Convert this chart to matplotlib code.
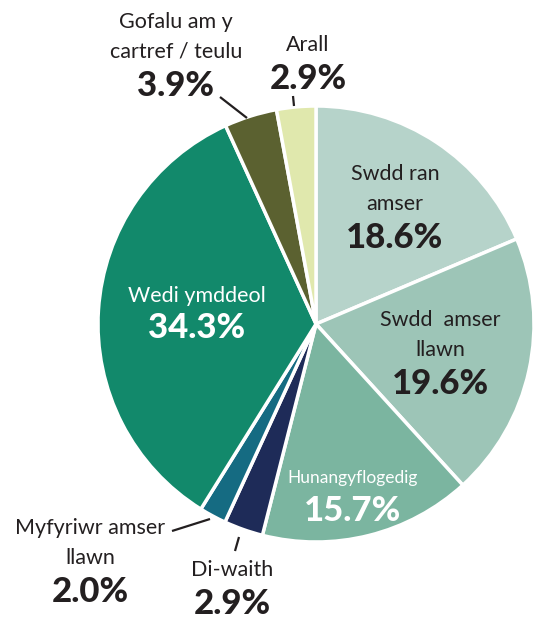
import matplotlib
matplotlib.use("Agg")
import matplotlib.pyplot as plt

categories = ["Swdd ran amser", "Swdd amser llawn", "Hunangyflogedig", "Di-waith",
              "Myfyriwr amser llawn", "Wedi ymddeol", "Gofalu am y cartref / teulu", "Arall"]
values = [18.6, 19.6, 15.7, 2.9, 2.0, 34.3, 3.9, 2.9]
pct_labels = [f"{v:.1f}%" for v in values]
colors = ["#b6d3ca", "#9dc5b7", "#7bb5a0", "#1e2b58", "#156b82", "#12896b", "#5b6130", "#e0e8ad"]

W, H = 542, 619
fig = plt.figure(figsize=(W / 100, H / 100), dpi=100)
ax = fig.add_axes([0, 0, 1, 1])

cx, cy, r = 316, H - 324, 218
ax.pie(values, colors=colors, startangle=90, counterclock=False, center=(cx, cy), radius=r,
       wedgeprops=dict(edgecolor="white", linewidth=2.5), frame=True)
ax.set_xlim(0, W)
ax.set_ylim(0, H)
ax.set_aspect("equal")
ax.axis("off")

dark = "#231f20"
fam = ["Lato", "DejaVu Sans"]

def lab(x, y, name_lines, pct, color=dark, fs=15.5, pfs=25, gap=30, pgap=34):
    yy = y
    for ln in name_lines:
        ax.text(x, H - yy, ln, ha="center", va="center", fontsize=fs, color=color,
                family=fam, fontweight="normal")
        yy += gap
    yy += pgap - gap
    ax.text(x, H - yy, pct, ha="center", va="center", fontsize=pfs, color=color,
            family=fam, fontweight="black")

lab(395, 174, ["Swdd ran", "amser"], pct_labels[0])
lab(440, 320, ["Swdd  amser", "llawn"], pct_labels[1])
lab(353, 478, ["Hunangyflogedig"], pct_labels[2], color="white", fs=12.5, pgap=33)
lab(232, 570, ["Di-waith"], pct_labels[3])
lab(90, 528, ["Myfyriwr amser", "llawn"], pct_labels[4])
lab(197, 296, ["Wedi ymddeol"], pct_labels[5], color="white", pgap=32)
lab(176, 22, ["Gofalu am y", "cartref / teulu"], pct_labels[6])
lab(308, 45, ["Arall"], pct_labels[7])

def leader(x0, y0, x1, y1):
    ax.plot([x0, x1], [H - y0, H - y1], color=dark, lw=1.6, solid_capstyle="butt")

leader(220, 97, 247, 118)
leader(293, 96, 294, 106)
leader(172, 531, 210, 519)
leader(239, 537, 235, 551)

fig.savefig("out.png", dpi=100)
